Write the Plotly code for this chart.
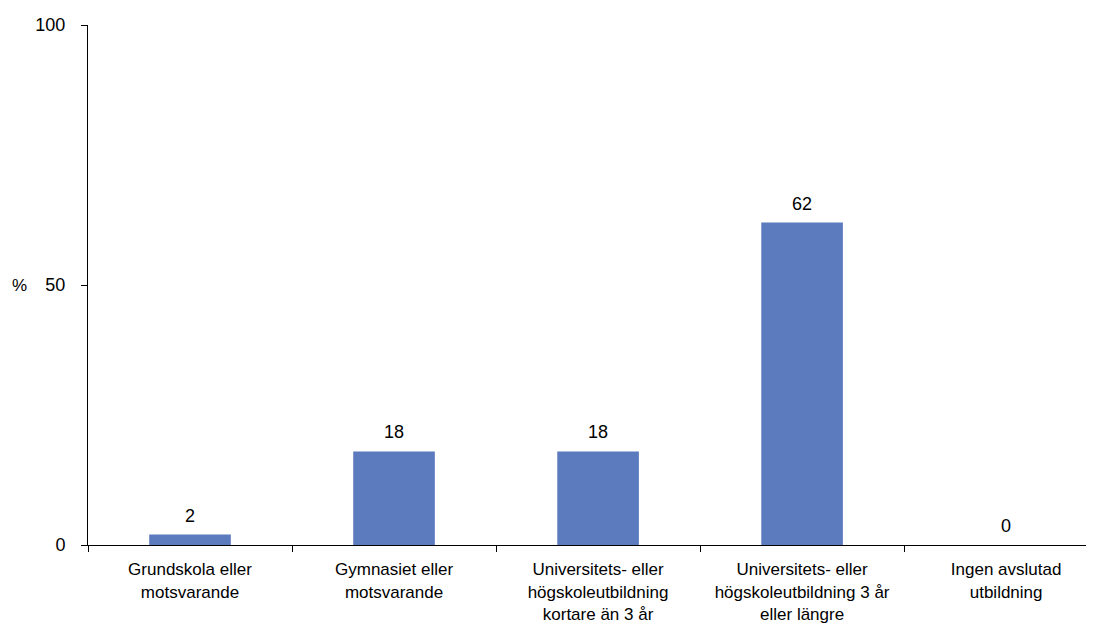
import plotly.graph_objects as go

categories = [
    "Grundskola eller<br>motsvarande",
    "Gymnasiet eller<br>motsvarande",
    "Universitets- eller<br>högskoleutbildning<br>kortare än 3 år",
    "Universitets- eller<br>högskoleutbildning 3 år<br>eller längre",
    "Ingen avslutad<br>utbildning",
]
values = [2, 18, 18, 62, 0]
labels = ["2", "18", "18", "62", "0"]
y_ticks = [0, 50, 100]

FONT = "Liberation Sans, Arial, sans-serif"

fig = go.Figure(
    go.Bar(
        x=categories,
        y=values,
        marker=dict(color="#5B7BBE", line=dict(width=0)),
        width=0.4,
    )
)

for c, v, t in zip(categories, values, labels):
    fig.add_annotation(
        x=c, y=v, xref="x", yref="y",
        text=t, showarrow=False,
        yanchor="bottom", xanchor="center", yshift=7,
        font=dict(size=18, family=FONT, color="black"),
    )

fig.update_layout(
    width=1094,
    height=624,
    margin=dict(l=80, r=0, t=17, b=87, autoexpand=False),
    plot_bgcolor="white",
    paper_bgcolor="white",
    showlegend=False,
    font=dict(family=FONT, size=17, color="black"),
)

fig.update_xaxes(
    range=[-0.5, 4.47],
    automargin=False,
    showline=True,
    linecolor="black",
    linewidth=1,
    ticks="outside",
    tickson="boundaries",
    ticklen=6,
    tickcolor="black",
    showgrid=False,
    tickfont=dict(size=17, family=FONT, color="black"),
    ticklabelstandoff=9,
)

fig.update_yaxes(
    range=[0, 100],
    automargin=False,
    tickvals=y_ticks,
    showline=True,
    linecolor="black",
    linewidth=1,
    ticks="outside",
    ticklen=6,
    tickcolor="black",
    showgrid=False,
    zeroline=False,
    tickfont=dict(size=18, family=FONT, color="black"),
    ticklabelstandoff=12,
)

fig.add_annotation(
    text="%",
    xref="paper",
    yref="y",
    x=-0.068,
    y=50,
    xanchor="center",
    yanchor="middle",
    showarrow=False,
    font=dict(size=17, family=FONT, color="black"),
)

fig.write_html("out.html")
